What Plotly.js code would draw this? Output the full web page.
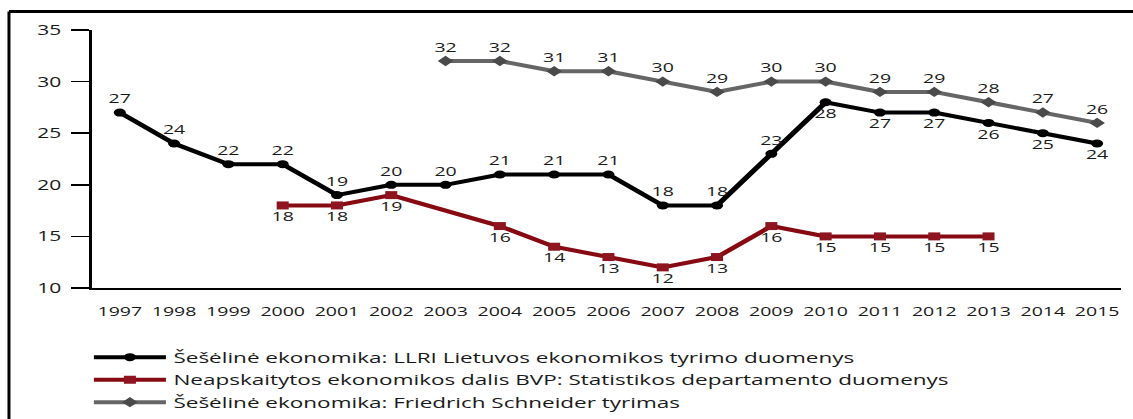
<!DOCTYPE html>
<html>
<head>
<meta charset="utf-8">
<script src="https://cdn.plot.ly/plotly-3.0.1.min.js"></script>
<style>
  html, body { margin: 0; padding: 0; background: #fff; overflow: hidden; }
  #chart { width: 755px; height: 419px; transform: scaleX(1.5007); transform-origin: 0 0; }
</style>
</head>
<body>
<div id="chart"></div>
<script>
// Data
const llriYears = [1997, 1998, 1999, 2000, 2001, 2002, 2003, 2004, 2005, 2006, 2007, 2008, 2009, 2010, 2011, 2012, 2013, 2014, 2015];
const llriValues = [27, 24, 22, 22, 19, 20, 20, 21, 21, 21, 18, 18, 23, 28, 27, 27, 26, 25, 24];
const llriLabelPos = ["top center","top center","top center","top center","top center","top center","top center","top center","top center","top center","top center","top center","top center","bottom center","bottom center","bottom center","bottom center","bottom center","bottom center"];

const statYears = [2000, 2001, 2002, 2004, 2005, 2006, 2007, 2008, 2009, 2010, 2011, 2012, 2013];
const statValues = [18, 18, 19, 16, 14, 13, 12, 13, 16, 15, 15, 15, 15];

const schneiderYears = [2003, 2004, 2005, 2006, 2007, 2008, 2009, 2010, 2011, 2012, 2013, 2014, 2015];
const schneiderValues = [32, 32, 31, 31, 30, 29, 30, 30, 29, 29, 28, 27, 26];

const tickYears = [1997, 1998, 1999, 2000, 2001, 2002, 2003, 2004, 2005, 2006, 2007, 2008, 2009, 2010, 2011, 2012, 2013, 2014, 2015];
const yTicks = [10, 15, 20, 25, 30, 35];

const seriesNames = [
  "Šešėlinė ekonomika: LLRI Lietuvos ekonomikos tyrimo duomenys",
  "Neapskaitytos ekonomikos dalis BVP: Statistikos departamento duomenys",
  "Šešėlinė ekonomika: Friedrich Schneider tyrimas"
];

const FONT = "Open Sans, DejaVu Sans, sans-serif";
const labelFont = { family: FONT, size: 13, color: "#1a1a1a" };

const traces = [
  {
    x: llriYears, y: llriValues, name: seriesNames[0],
    type: "scatter", mode: "lines+markers+text",
    text: llriValues.map(String), textposition: llriLabelPos, textfont: labelFont,
    line: { color: "#000000", width: 4 },
    marker: { symbol: "circle", size: 8, color: "#000000" },
    legendgroup: "a", cliponaxis: false
  },
  {
    x: statYears, y: statValues, name: seriesNames[1],
    type: "scatter", mode: "lines+markers+text",
    text: statValues.map(String), textposition: "bottom center", textfont: labelFont,
    line: { color: "#870a12", width: 4 },
    marker: { symbol: "square", size: 8, color: "#8e1420" },
    legendgroup: "b", cliponaxis: false
  },
  {
    x: schneiderYears, y: schneiderValues, name: seriesNames[2],
    type: "scatter", mode: "lines+markers+text",
    text: schneiderValues.map(String), textposition: "top center", textfont: labelFont,
    line: { color: "#666666", width: 4 },
    marker: { symbol: "diamond", size: 8, color: "#4a4a4a" },
    legendgroup: "c", cliponaxis: false
  }
];

const layout = {
  width: 755, height: 419,
  margin: { l: 61.3, r: 8.3, t: 29.5, b: 131, autoexpand: false },
  paper_bgcolor: "#ffffff", plot_bgcolor: "#ffffff",
  font: { family: FONT, color: "#1a1a1a" },
  showlegend: true,
  legend: {
    x: -0.005, xanchor: "left", y: -0.205, yanchor: "top",
    font: { family: FONT, size: 15, color: "#1a1a1a" },
    itemwidth: 48, traceorder: "grouped", tracegroupgap: 0,
    bgcolor: "rgba(0,0,0,0)"
  },
  xaxis: {
    range: [1996.48, 2015.44],
    tickmode: "array", tickvals: tickYears, ticktext: tickYears.map(String),
    showgrid: false, zeroline: false,
    showline: true, linecolor: "#000000", linewidth: 1.5,
    ticks: "", ticklabelstandoff: 11,
    tickfont: { family: FONT, size: 13, color: "#1a1a1a" }
  },
  yaxis: {
    range: [10, 35],
    tickmode: "array", tickvals: yTicks, ticktext: yTicks.map(String),
    showgrid: false, zeroline: false,
    showline: true, linecolor: "#000000", linewidth: 1.4,
    ticks: "outside", ticklen: 12, tickwidth: 1.5, tickcolor: "#000000",
    ticklabelstandoff: 4,
    tickfont: { family: FONT, size: 14, color: "#1a1a1a" }
  },
  shapes: [
    { type: "line", xref: "paper", yref: "paper", x0: -0.0802, x1: -0.0802, y0: -0.7, y1: 1.0716,
      line: { color: "#000000", width: 2 } },
    { type: "line", xref: "paper", yref: "paper", x0: -0.0802, x1: 1.2, y0: 1.0716, y1: 1.0716,
      line: { color: "#000000", width: 3 } }
  ]
};

Plotly.newPlot("chart", traces, layout, { displayModeBar: false, staticPlot: true });
</script>
</body>
</html>
